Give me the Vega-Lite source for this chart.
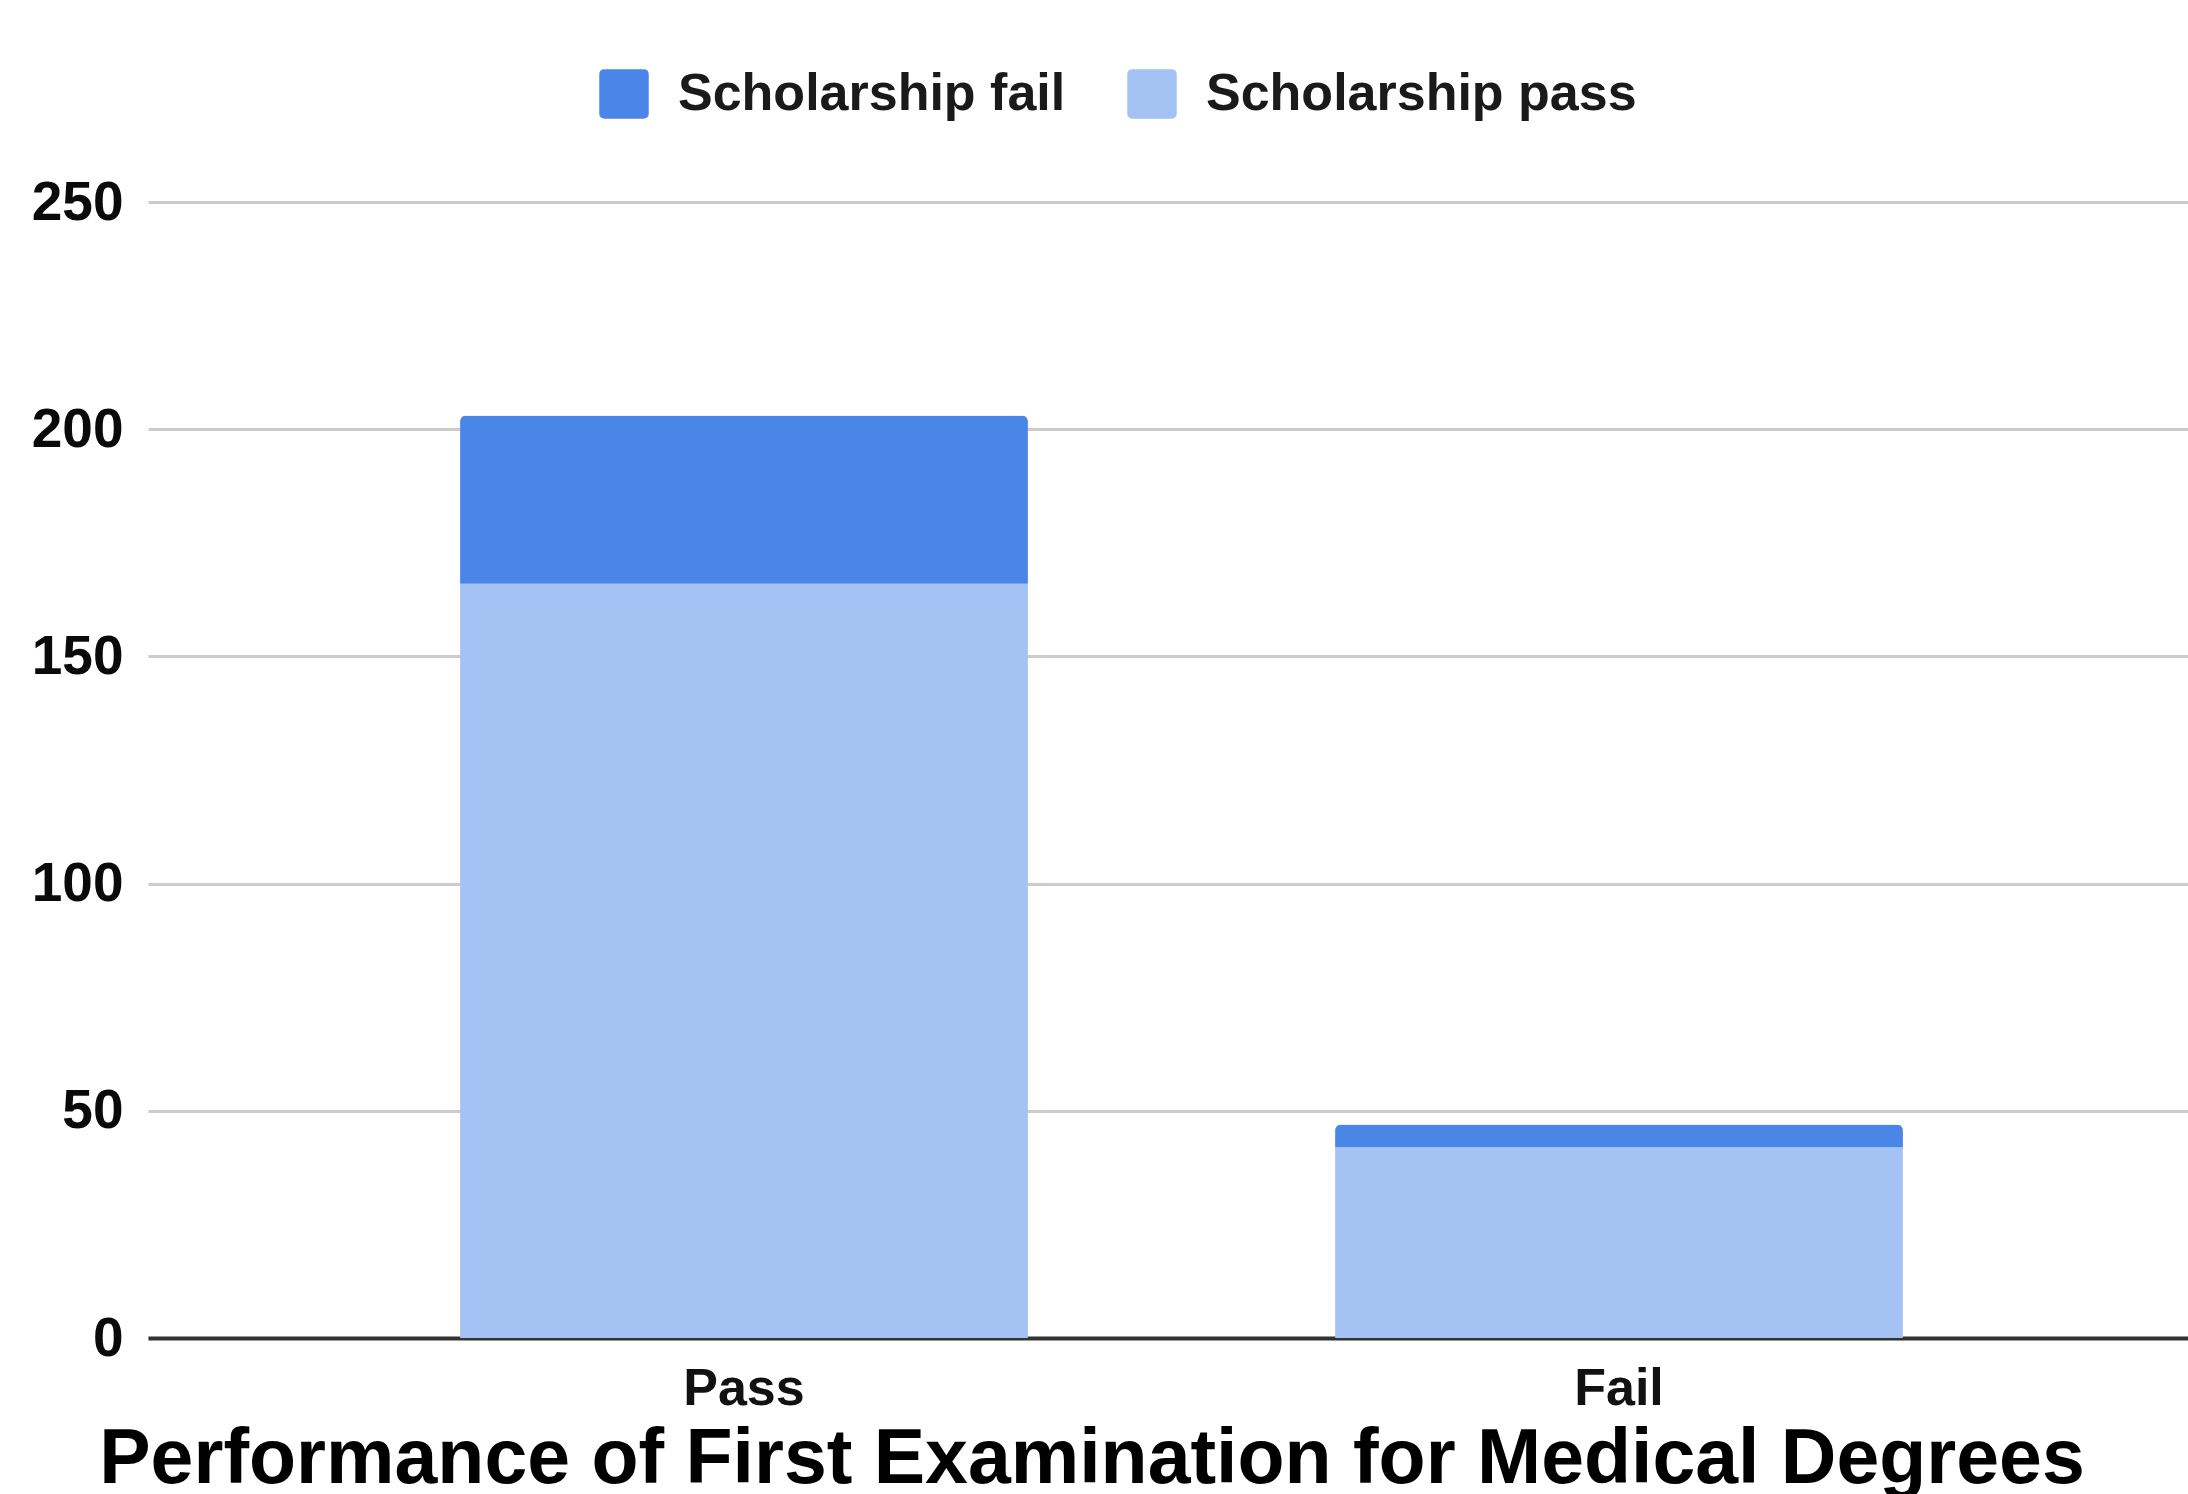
{
  "$schema": "https://vega.github.io/schema/vega-lite/v6.json",
  "width": 2040,
  "height": 1136,
  "autosize": {"type": "none"},
  "padding": {"left": 148, "top": 202, "right": 0, "bottom": 156},
  "background": "white",
  "config": {"view": {"stroke": null}},
  "data": {"values": [
    {"result": "Pass", "series": "Scholarship pass", "count": 166},
    {"result": "Pass", "series": "Scholarship fail", "count": 37},
    {"result": "Fail", "series": "Scholarship pass", "count": 42},
    {"result": "Fail", "series": "Scholarship fail", "count": 5}
  ]},
  "title": {
    "text": "Performance of First Examination for Medical Degrees",
    "orient": "bottom",
    "anchor": "middle",
    "font": "Liberation Sans",
    "fontSize": 77,
    "fontWeight": "bold",
    "color": "#000000",
    "dx": -76,
    "offset": 8
  },
  "mark": {"type": "bar", "cornerRadiusEnd": 6},
  "encoding": {
    "x": {
      "field": "result",
      "type": "nominal",
      "sort": ["Pass", "Fail"],
      "scale": {"paddingInner": 0.351, "paddingOuter": 0.3412, "align": 0.5226},
      "axis": {
        "title": null,
        "labelAngle": 0,
        "ticks": false,
        "grid": false,
        "domain": true,
        "domainColor": "#333333",
        "domainWidth": 4,
        "labelFont": "Liberation Sans",
        "labelFontSize": 52,
        "labelFontWeight": "bold",
        "labelColor": "#111111",
        "labelPadding": 25
      }
    },
    "y": {
      "field": "count",
      "type": "quantitative",
      "stack": "zero",
      "scale": {"domain": [0, 250], "nice": false},
      "axis": {
        "title": null,
        "values": [0, 50, 100, 150, 200, 250],
        "grid": true,
        "gridColor": "#cccccc",
        "gridWidth": 3,
        "domain": false,
        "ticks": false,
        "labelFont": "Liberation Sans",
        "labelFontSize": 55,
        "labelFontWeight": "bold",
        "labelColor": "#0a0a0a",
        "labelPadding": 25
      }
    },
    "color": {
      "field": "series",
      "type": "nominal",
      "scale": {"domain": ["Scholarship fail", "Scholarship pass"], "range": ["#4a86e8", "#a4c2f4"]},
      "legend": {
        "title": null,
        "orient": "none",
        "legendX": 450,
        "legendY": -134,
        "direction": "horizontal",
        "padding": 0,
        "symbolType": "M -0.78,-1 L 0.78,-1 Q 1,-1 1,-0.78 L 1,0.78 Q 1,1 0.78,1 L -0.78,1 Q -1,1 -1,0.78 L -1,-0.78 Q -1,-1 -0.78,-1 Z",
        "symbolSize": 2450,
        "symbolStrokeWidth": 0,
        "symbolOpacity": 1,
        "labelFont": "Liberation Sans",
        "labelFontSize": 52,
        "labelFontWeight": "bold",
        "labelColor": "#1a1a1a",
        "labelLimit": 0,
        "labelOffset": 28,
        "columnPadding": 60
      }
    },
    "order": {"field": "series", "sort": "descending"}
  }
}
